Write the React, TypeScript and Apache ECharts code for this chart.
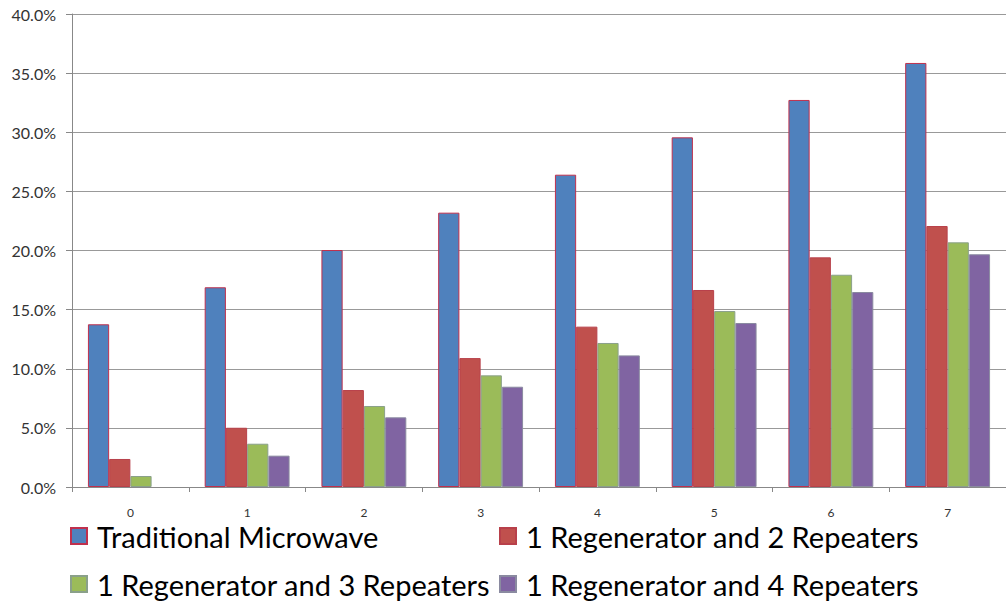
import React, { useEffect, useRef } from "react";
import * as echarts from "echarts";

const categories = ["0", "1", "2", "3", "4", "5", "6", "7"];
const seriesNames = [
  "Traditional Microwave",
  "1 Regenerator and 2 Repeaters",
  "1 Regenerator and 3 Repeaters",
  "1 Regenerator and 4 Repeaters",
];
const traditional = [13.76, 16.89, 20.04, 23.2, 26.41, 29.57, 32.73, 35.86];
const regen2 = [2.37, 5.01, 8.2, 10.9, 13.56, 16.66, 19.42, 22.07];
const regen3 = [0.93, 3.66, 6.85, 9.44, 12.18, 14.88, 17.95, 20.69];
const regen4 = [0, 2.65, 5.89, 8.48, 11.13, 13.87, 16.49, 19.68];
const yTicks = [0, 5, 10, 15, 20, 25, 30, 35, 40];

const colors = ["#4f81bd", "#c0504d", "#9bbb59", "#8064a2"];
const borders = ["#c0304d", "#b8404a", "#8aa08a", "#8a8aa0"];

export default function App() {
  const ref = useRef<HTMLDivElement>(null);
  useEffect(() => {
    if (!ref.current) return;
    const chart = echarts.init(ref.current, undefined, { renderer: "svg" });
    const values = [traditional, regen2, regen3, regen4];
    const legendPos = [
      { left: 70, top: 521 },
      { left: 499, top: 521 },
      { left: 70, top: 569 },
      { left: 499, top: 569 },
    ];
    chart.setOption({
      animation: false,
      textStyle: { fontFamily: "Lato, 'Open Sans', sans-serif" },
      grid: { left: 72, top: 14, width: 941, height: 473 },
      legend: seriesNames.map((n, i) => ({
        data: [n],
        left: legendPos[i].left,
        top: legendPos[i].top,
        itemWidth: 16,
        itemHeight: 16,
        padding: 0,
        icon: "rect",
        textStyle: {
          fontSize: 29,
          lineHeight: 30,
          color: "#000",
          padding: [0, 0, 0, 5],
          fontFamily: "Lato, 'Open Sans', sans-serif",
        },
        selectedMode: false,
      })),
      xAxis: {
        type: "category",
        data: categories,
        axisLine: { lineStyle: { color: "#888", width: 1 } },
        axisTick: { show: true, length: 5, lineStyle: { color: "#888" } },
        axisLabel: { color: "#333", fontSize: 12, margin: 18, lineHeight: 14 },
      },
      yAxis: {
        type: "value",
        min: 0,
        max: 40,
        interval: 5,
        axisLine: { show: true, lineStyle: { color: "#888", width: 1 } },
        axisTick: { show: true, length: 6, lineStyle: { color: "#888" } },
        splitLine: { lineStyle: { color: "#999", width: 1 } },
        axisLabel: {
          color: "#333",
          fontSize: 16,
          margin: 16,
          formatter: (v: number) => (yTicks.includes(v) ? v.toFixed(1) + "%" : ""),
        },
      },
      series: seriesNames.map((n, i) => ({
        name: n,
        type: "bar",
        data: values[i].map((v) =>
          v === 0 ? { value: v, itemStyle: { borderWidth: 0 } } : v
        ),
        barGap: "0%",
        barCategoryGap: "27.3%",
        itemStyle: {
          color: colors[i],
          borderColor: borders[i],
          borderWidth: 1,
        },
      })),
    });
    return () => chart.dispose();
  }, []);
  return (
    <div
      ref={ref}
      style={{ position: "absolute", left: 0, top: 0, width: 1006, height: 603 }}
    />
  );
}
